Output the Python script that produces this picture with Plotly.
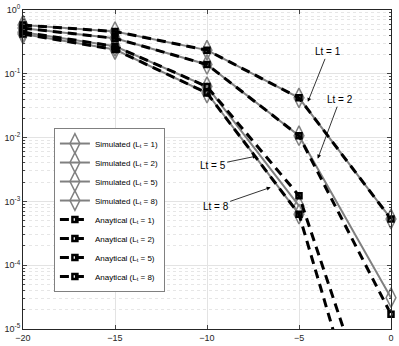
import math
import plotly.graph_objects as go

# eixos / dados
snr = [-20, -15, -10, -5, 0]
lt_labels = ["1", "2", "5", "8"]

sim_lt1 = [0.58, 0.46, 0.235, 0.042, 5.3e-4]
sim_lt2 = [0.52, 0.36, 0.14, 0.0107, 3.1e-5]
sim_lt5 = [0.45, 0.27, 0.063, 8.5e-4, None]
sim_lt8 = [0.42, 0.24, 0.050, 6.3e-4, None]

ana_lt1 = [0.58, 0.46, 0.235, 0.042, 5.3e-4]
ana_lt2 = [0.52, 0.36, 0.14, 0.0107, 1.7e-5]
ana_lt5 = [0.45, 0.27, 0.063, 1.23e-3, 6e-8]
ana_lt8 = [0.42, 0.24, 0.050, 6.3e-4, 8e-9]

y_tickvals = [1, 1e-1, 1e-2, 1e-3, 1e-4, 1e-5]
y_ticktext = ["10<sup>0</sup>", "10<sup>-1</sup>", "10<sup>-2</sup>",
              "10<sup>-3</sup>", "10<sup>-4</sup>", "10<sup>-5</sup>"]
y_minor = [k * 10.0 ** e for e in range(-5, 0) for k in range(2, 10)]

FONT = "Liberation Sans, Arial, sans-serif"

fig = go.Figure()

for lt, ys in zip(lt_labels, [sim_lt1, sim_lt2, sim_lt5, sim_lt8]):
    fig.add_trace(go.Scatter(
        x=snr, y=ys, mode="lines+markers", cliponaxis=False,
        name=f"Simulated (L<sub>t</sub> = {lt})",
        line=dict(color="#808080", width=2),
        marker=dict(symbol="diamond-tall-open", size=14,
                    color="#808080", line=dict(width=1.5, color="#808080")),
    ))

for lt, ys in zip(lt_labels, [ana_lt1, ana_lt2, ana_lt5, ana_lt8]):
    fig.add_trace(go.Scatter(
        x=snr, y=ys, mode="lines+markers", cliponaxis=False,
        name=f"Anaytical (L<sub>t</sub> = {lt})",
        line=dict(color="black", width=3, dash="9px,6px"),
        marker=dict(symbol="square-open", size=5,
                    color="black", line=dict(width=2.5, color="black")),
    ))

# rótulos com setas
labels = [
    ("Lt = 1", -4.52, 10 ** -1.44, 20, -50),
    ("Lt = 2", -3.98, 10 ** -2.33, 22, -59),
    ("Lt = 5", -7.30, 10 ** -2.29, -44, 9),
    ("Lt = 8", -6.54, 10 ** -2.78, -55, 19),
]
for txt, x, y, ax, ay in labels:
    fig.add_annotation(
        x=x, y=math.log10(y), text=txt,
        ax=ax, ay=ay, showarrow=True,
        arrowhead=2, arrowsize=1, arrowwidth=0.8, arrowcolor="black",
        font=dict(family=FONT, size=10, color="black"),
    )

fig.update_xaxes(
    range=[-20, 0], tickvals=snr, ticks="inside", ticklen=4,
    showline=True, linecolor="#262626", linewidth=1, mirror="ticks",
    showgrid=True, gridcolor="#e3e3e3", gridwidth=1, zeroline=False,
    tickfont=dict(family=FONT, size=9, color="#262626"),
    automargin=False,
)
fig.update_yaxes(
    type="log", range=[-5, 0], tickvals=y_tickvals, ticktext=y_ticktext,
    ticks="inside", ticklen=4,
    showline=True, linecolor="#262626", linewidth=1, mirror="ticks",
    showgrid=True, gridcolor="#e3e3e3", gridwidth=1,
    minor=dict(tickvals=y_minor, ticks="inside", ticklen=2,
               showgrid=True, gridcolor="#e6e6e6", griddash="dot"),
    tickfont=dict(family=FONT, size=9, color="#262626"),
    automargin=False,
)

fig.update_layout(
    width=399, height=346,
    margin=dict(l=23, r=8, t=10, b=17),
    plot_bgcolor="white", paper_bgcolor="white",
    showlegend=True,
    legend=dict(
        x=0.084, y=0.63, xanchor="left", yanchor="top",
        bgcolor="white", bordercolor="#808080", borderwidth=1,
        font=dict(family=FONT, size=8, color="black"),
        tracegroupgap=0, itemwidth=30,
    ),
)

fig.write_html(
    "out.html",
    config={"displayModeBar": False},
    post_script="document.body.style.margin='0';"
                "document.body.style.overflow='hidden';",
)
